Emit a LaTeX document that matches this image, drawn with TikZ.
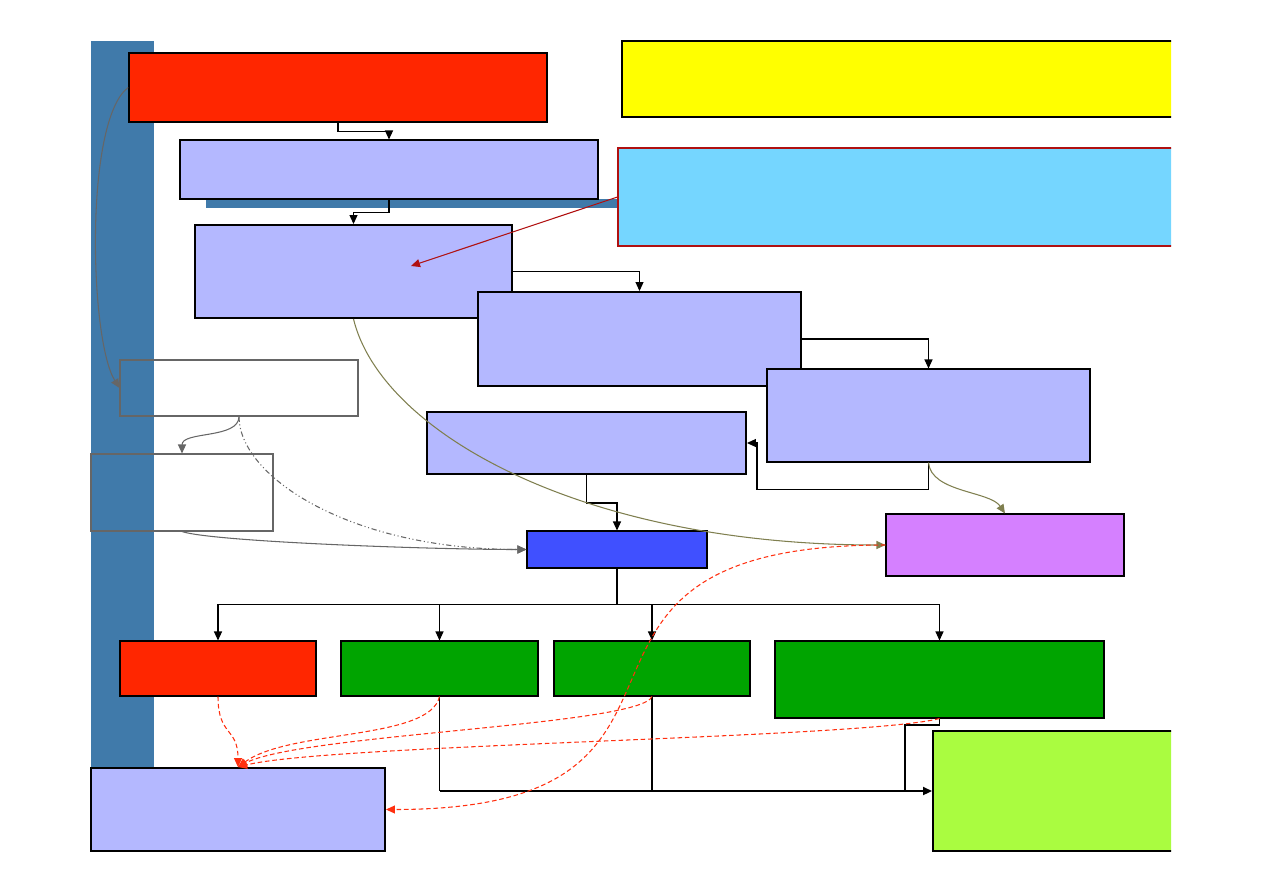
\documentclass[tikz,border=0pt]{standalone}
\usepackage{tikz}
\usetikzlibrary{arrows.meta}
\definecolor{barblue}{HTML}{407AAA}
\definecolor{hotred}{HTML}{FF2600}
\definecolor{lav}{HTML}{B4B8FF}
\definecolor{skyc}{HTML}{75D6FF}
\definecolor{hubblue}{HTML}{4050FF}
\definecolor{pinkv}{HTML}{D580FF}
\definecolor{grn}{HTML}{00A400}
\definecolor{limeg}{HTML}{AAFC40}
\definecolor{olivel}{HTML}{7F7F4F}
\definecolor{linkgray}{HTML}{666666}
\definecolor{darkr}{HTML}{B01010}
\definecolor{dashr}{HTML}{FF3010}
\definecolor{yel}{RGB}{255,255,0}

\begin{document}
\begin{tikzpicture}[x=1cm,y=-1cm,
  flow/.style={-{Triangle[length=1.8mm,width=1.6mm]},line width=.6pt},
  link/.style={flow,draw=linkgray},
  olink/.style={flow,draw=olivel},
  rlink/.style={flow,draw=dashr,dash pattern=on 2.6pt off 1.6pt},
  card/.style={draw,line width=.6pt,inner sep=0pt},
  heavy/.style={card,line width=1.1pt}]
\useasboundingbox (0,0) rectangle (25.26,17.86);
\clip (0,0) rectangle (23.42,17.86);

% side bar and strip
\fill[barblue] (1.82,0.82) rectangle (3.08,15.4);
\fill[barblue] (4.12,3.98) rectangle (12.4,4.16);

% top part
\node[card,line width=.9pt,fill=hotred,minimum width=8.36cm,minimum height=1.38cm] (title) at (6.76,1.75) {};
\node[card,fill=yel,minimum width=11.36cm,minimum height=1.52cm] (banner) at (18.12,1.58) {};
\node[card,fill=lav,minimum width=8.36cm,minimum height=1.18cm] (plan) at (7.78,3.39) {};
\node[card,draw=darkr,fill=skyc,minimum width=11.44cm,minimum height=1.96cm] (memo) at (18.08,3.94) {};
\node[heavy,fill=lav,minimum width=6.34cm,minimum height=1.86cm] (core) at (7.07,5.43) {};
\node[heavy,fill=lav,minimum width=6.46cm,minimum height=1.88cm] (stageb) at (12.79,6.78) {};
\node[card,fill=lav,minimum width=6.46cm,minimum height=1.86cm] (stagec) at (18.57,8.31) {};
\node[heavy,fill=lav,minimum width=6.38cm,minimum height=1.24cm] (back) at (11.73,8.86) {};
\node[card,fill=pinkv,minimum width=4.76cm,minimum height=1.24cm] (pink) at (20.1,10.9) {};
\node[card,fill=hubblue,minimum width=3.6cm,minimum height=.74cm] (hub) at (12.34,10.99) {};
\node[card,draw=linkgray,minimum width=4.76cm,minimum height=1.12cm] (wa) at (4.78,7.76) {};
\node[card,draw=linkgray,minimum width=3.64cm,minimum height=1.54cm] (wb) at (3.64,9.85) {};

% bottom part
\node[card,fill=hotred,minimum width=3.92cm,minimum height=1.1cm] (redout) at (4.36,13.37) {};
\node[card,fill=grn,minimum width=3.94cm,minimum height=1.1cm] (grna) at (8.79,13.37) {};
\node[card,fill=grn,minimum width=3.92cm,minimum height=1.1cm] (grnb) at (13.04,13.37) {};
\node[card,fill=grn,minimum width=6.58cm,minimum height=1.54cm] (grnc) at (18.79,13.59) {};
\node[heavy,fill=limeg,minimum width=5.14cm,minimum height=2.4cm] (lime) at (21.23,15.82) {};
\node[heavy,fill=lav,minimum width=5.88cm,minimum height=1.66cm] (store) at (4.76,16.19) {};
\coordinate (aim) at (8.22,5.32);

% black flow
\draw[flow] (title.south) -- ++(0,.18) -| (plan.north);
\draw[flow] (plan.south) -- ++(0,.26) -| (core.north);
\draw[flow] (core.east) -| (stageb.north);
\draw[flow] (stageb.east) -| (stagec.north);
\draw[flow] (stagec.south) -- ++(0,.54) -| ([xshift=.2cm]back.east) -- (back.east);
\draw[flow] (back.south) -- ++(0,.56) -| (hub.north);
\foreach \n in {redout,grna,grnb,grnc}
  \draw[flow] (hub.south) -- ++(0,.72) -| (\n.north);
\draw[line width=.6pt] (grna.south) -- (grna.south |- lime.west);
\draw[line width=.6pt] (grnb.south) -- (grnb.south |- lime.west);
\draw[line width=1.1pt] (grnc.south) -- ++(0,.12) -| ([xshift=-.54cm]lime.west);
\draw[flow,line width=1.1pt] (grna.south |- lime.west) -- (lime.west);

% coloured links
\draw[flow,draw=darkr] (memo.west) -- (aim);
\draw[olink] (core.south) .. controls +(.54,2.24) and +(-6.12,0) .. (pink.west);
\draw[olink] (stagec.south) .. controls +(.05,.6) and +(-.3,-.45) .. (pink.north);
\draw[link] (title.west) .. controls +(-.88,.65) and +(-.6,-.96) .. (wa.west);
\draw[link] (wa.south) .. controls +(0,.45) and +(0,-.45) .. (wb.north);
\draw[link,dash pattern=on 3pt off 1.5pt on .6pt off 1.5pt on .6pt off 1.5pt] (wa.south) .. controls +(0,1.2) and +(-3.54,0) .. (hub.west);
\draw[link] (wb.south) .. controls +(.6,.2) and +(-2,0) .. (hub.west);

% dashed red
\draw[rlink] (redout.south) .. controls +(0,.8) and +(0,-.8) .. (store.north);
\draw[rlink] (grna.south) .. controls +(-.2,.88) and +(1.04,-.76) .. (store.north);
\draw[rlink] (grnb.south) .. controls +(-.24,.58) and +(1.24,-.66) .. (store.north);
\draw[rlink] (grnc.south) .. controls +(-1.58,.4) and +(1.84,-.46) .. (store.north);
\draw[rlink] (pink.west) .. controls +(-7.72,0) and +(7.5,0) .. (store.east);
\end{tikzpicture}
\end{document}
